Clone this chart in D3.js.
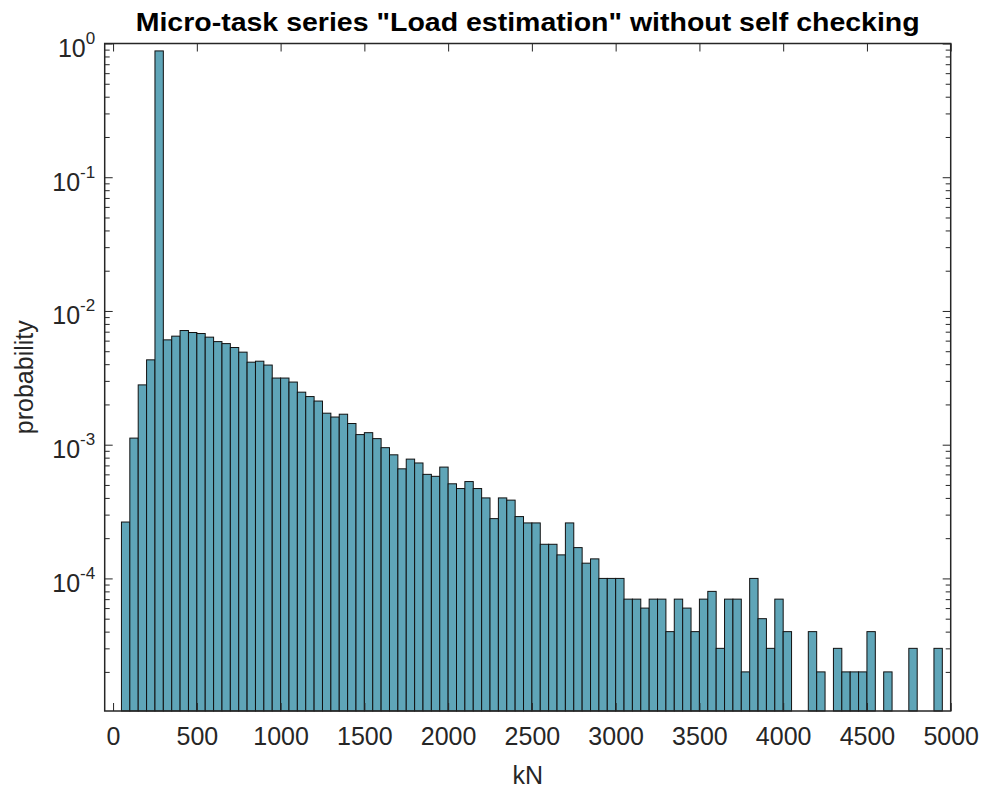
<!DOCTYPE html>
<html>
<head>
<meta charset="utf-8">
<script src="https://cdn.jsdelivr.net/npm/d3@7"></script>
<style>
  body { margin: 0; background: #fff; }
  svg { display: block; }
  .axis text { font-family: "Liberation Sans", Arial, sans-serif; fill: #262626; }
  .axis line { stroke: #262626; stroke-width: 1; }
  .axis .domain { display: none; }
</style>
</head>
<body>
<div id="chart"></div>
<script>
//histogram bins (kN), width 50, first bin starts at 50
var binStart = 50;
var binWidth = 50;

//probability per bin (0 = empty bin)
var probability = [
  2.64e-4, 1.12e-3, 2.80e-3, 4.31e-3, 0.88,
  6.08e-3, 6.48e-3, 7.14e-3, 6.90e-3, 6.78e-3,
  6.37e-3, 5.90e-3, 5.70e-3, 5.33e-3, 4.92e-3,
  4.14e-3, 4.21e-3, 3.94e-3, 3.15e-3, 3.15e-3,
  2.94e-3, 2.47e-3, 2.29e-3, 2.12e-3, 1.72e-3,
  1.61e-3, 1.69e-3, 1.44e-3, 1.19e-3, 1.23e-3,
  1.11e-3, 9.5e-4, 8.4e-4, 6.6e-4, 7.8e-4,
  7.3e-4, 6.0e-4, 5.8e-4, 6.8e-4, 5.1e-4,
  4.7e-4, 5.3e-4, 4.7e-4, 4.0e-4, 2.8e-4,
  4.0e-4, 3.85e-4, 2.9e-4, 2.6e-4, 2.6e-4,
  1.8e-4, 1.8e-4, 1.5e-4, 2.6e-4, 1.7e-4,
  1.3e-4, 1.4e-4, 1.0e-4, 1.0e-4, 1.0e-4,
  7e-5, 7e-5, 6e-5, 7e-5, 7e-5,
  4e-5, 7e-5, 6e-5, 4e-5, 7e-5,
  8e-5, 3e-5, 7e-5, 7e-5, 2e-5,
  1e-4, 5e-5, 3e-5, 7e-5, 4e-5,
  0, 0, 4e-5, 2e-5, 0,
  3e-5, 2e-5, 2e-5, 2e-5, 4e-5,
  0, 2e-5, 0, 0, 3e-5,
  0, 0, 3e-5, 0
];

var xTicks = [0, 500, 1000, 1500, 2000, 2500, 3000, 3500, 4000, 4500, 5000];
var yTicks = [1e-4, 1e-3, 1e-2, 1e-1, 1e0];
var yTickExp = ["-4", "-3", "-2", "-1", "0"];

var titleText = 'Micro-task series "Load estimation" without self checking';
var xLabel = "kN";
var yLabel = "probability";

//chart parameters
var width = 984;
var height = 790;
var margin = {top: 43.5, right: 33.3, bottom: 79, left: 104.7};
var innerW = width - margin.left - margin.right;
var innerH = height - margin.top - margin.bottom;

var svg = d3.select("#chart")
  .append("svg")
  .attr("width", width)
  .attr("height", height);

var g = svg.append("g")
  .attr("transform", "translate(" + margin.left + "," + margin.top + ")");

var bins = probability.map(function(p, i) {
  return {x0: binStart + i * binWidth, x1: binStart + (i + 1) * binWidth, p: p};
});

//scales
var x = d3.scaleLinear()
  .domain([-50, 5000])
  .range([0, innerW]);

var y = d3.scaleLog()
  .domain([1.02e-5, 1])
  .range([innerH, 0]);

//minor log ticks
var yMinor = [];
[1e-5, 1e-4, 1e-3, 1e-2, 1e-1].forEach(function(d) {
  for (var k = 2; k <= 9; k++) yMinor.push(d * k);
});
yMinor = yMinor.filter(function(v) { return v >= y.domain()[0]; });

//bars
g.append("g")
  .selectAll("rect")
  .data(bins.filter(function(d) { return d.p > 0; }))
  .enter()
  .append("rect")
  .attr("x", function(d) { return x(d.x0); })
  .attr("y", function(d) { return y(d.p); })
  .attr("width", function(d) { return x(d.x1) - x(d.x0); })
  .attr("height", function(d) { return innerH - y(d.p); })
  .attr("fill", "#5fa5b8")
  .attr("stroke", "#111")
  .attr("stroke-width", 1);

//axes (ticks point inward)
g.append("g")
  .attr("class", "x axis")
  .attr("transform", "translate(0," + innerH + ")")
  .call(d3.axisBottom(x).tickValues(xTicks).tickFormat(d3.format("d"))
    .tickSizeInner(-8).tickSizeOuter(0).tickPadding(16))
  .selectAll("text")
  .style("font-size", "25px");

g.append("g")
  .attr("class", "x axis")
  .call(d3.axisTop(x).tickValues(xTicks).tickSizeInner(-8).tickSizeOuter(0).tickFormat(""));

var yAxisG = g.append("g")
  .attr("class", "y axis")
  .call(d3.axisLeft(y).tickValues(yTicks).tickSizeInner(-8).tickSizeOuter(0).tickFormat(""));

g.append("g")
  .attr("class", "y axis")
  .call(d3.axisLeft(y).tickValues(yMinor).tickSizeInner(-5).tickSizeOuter(0).tickFormat(""));

g.append("g")
  .attr("class", "y axis")
  .attr("transform", "translate(" + innerW + ",0)")
  .call(d3.axisRight(y).tickValues(yTicks).tickSizeInner(-8).tickSizeOuter(0).tickFormat(""));

g.append("g")
  .attr("class", "y axis")
  .attr("transform", "translate(" + innerW + ",0)")
  .call(d3.axisRight(y).tickValues(yMinor).tickSizeInner(-5).tickSizeOuter(0).tickFormat(""));

//y tick labels as 10^n
yAxisG.selectAll(".tick").each(function(d) {
  var t = d3.select(this).append("text")
    .attr("x", -9.5)
    .attr("y", 13)
    .attr("text-anchor", "end")
    .style("font-size", "25px");
  t.append("tspan").text("10");
  t.append("tspan")
    .attr("dy", -13)
    .style("font-size", "17px")
    .text(yTickExp[yTicks.indexOf(d)]);
});

//box
g.append("rect")
  .attr("width", innerW)
  .attr("height", innerH)
  .attr("fill", "none")
  .attr("stroke", "#262626")
  .attr("stroke-width", 1.5);

//labels
svg.append("text")
  .attr("x", margin.left + innerW / 2)
  .attr("y", 31)
  .attr("text-anchor", "middle")
  .attr("textLength", 784)
  .attr("lengthAdjust", "spacingAndGlyphs")
  .style("font-family", "'Liberation Sans', Arial, sans-serif")
  .style("font-weight", "bold")
  .style("font-size", "25px")
  .style("fill", "#000")
  .text(titleText);

svg.append("text")
  .attr("x", margin.left + innerW / 2)
  .attr("y", 784)
  .attr("text-anchor", "middle")
  .style("font-family", "'Liberation Sans', Arial, sans-serif")
  .style("font-size", "25px")
  .style("fill", "#262626")
  .text(xLabel);

svg.append("text")
  .attr("transform", "translate(33," + (margin.top + innerH / 2) + ") rotate(-90)")
  .attr("text-anchor", "middle")
  .style("font-family", "'Liberation Sans', Arial, sans-serif")
  .style("font-size", "25px")
  .style("fill", "#262626")
  .text(yLabel);
</script>
</body>
</html>
